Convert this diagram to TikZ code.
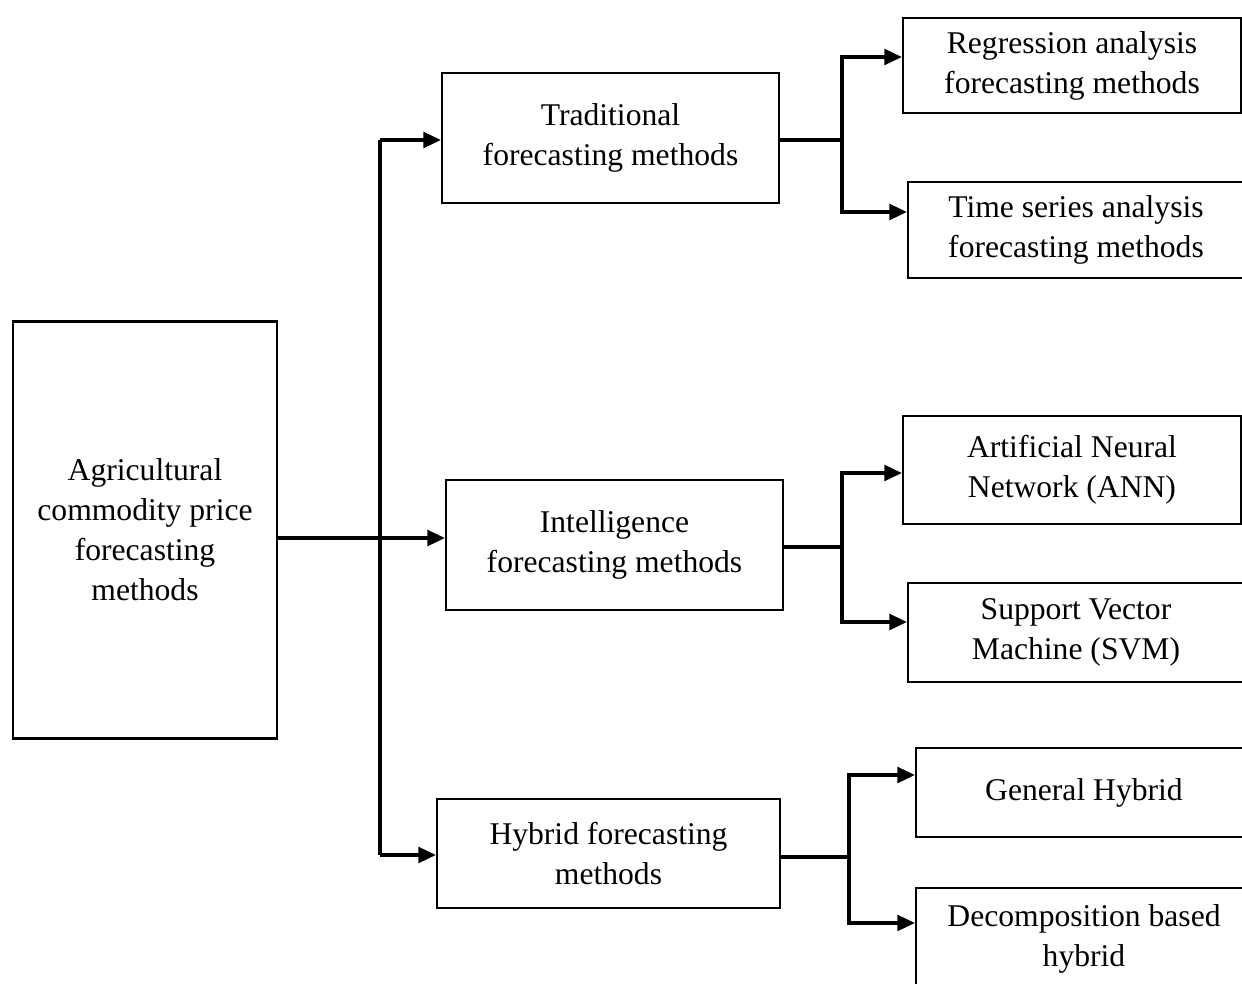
\documentclass[tikz,border=0pt]{standalone}
\usepackage{fontspec}
\setmainfont{Liberation Serif}
\usetikzlibrary{positioning}
\usetikzlibrary{arrows.meta}

\tikzset{
	box/.style={draw, line width=1.3pt, align=center, inner sep=0pt, font=\fontsize{18}{22.8}\selectfont},
	link/.style={line width=1.8pt},
	arr/.style={line width=1.8pt, -{Triangle[length=10pt,width=9pt]}},
}

\begin{document}
\begin{tikzpicture}[x=0.02cm, y=-0.02cm]
		\clip (0,0) rectangle (1242,984);
		%\draw[thin, gray!25] (0,0) grid[step=50] (1242,984);
		% first level
		\node[box, minimum width=5.28cm, minimum height=8.34cm] (main) at (145,530) {Agricultural\\commodity price\\forecasting\\methods};
		% second level
		\node[box, minimum width=6.74cm, minimum height=2.6cm] (trad) at (610.5,138) {Traditional\\forecasting methods};
		\node[box, minimum width=6.74cm, minimum height=2.6cm] (intel) at (614.5,545) {Intelligence\\forecasting methods};
		\node[box, minimum width=6.86cm, minimum height=2.18cm] (hyb) at (608.5,853.5) {Hybrid forecasting\\methods};
		% third level
		\node[box, minimum width=6.76cm, minimum height=1.9cm] (regr) at (1072,65.5) {Regression analysis\\forecasting methods};
		\node[box, minimum width=6.72cm, minimum height=1.92cm] (tser) at (1076,230) {Time series analysis\\forecasting methods};
		\node[box, minimum width=6.76cm, minimum height=2.16cm] (ann) at (1072,470) {Artificial Neural\\Network (ANN)};
		\node[box, minimum width=6.72cm, minimum height=1.98cm] (svm) at (1076,632.5) {Support Vector\\Machine (SVM)};
		\node[box, minimum width=6.72cm, minimum height=1.78cm] (gen) at (1084,792.5) {General Hybrid};
		\node[box, minimum width=6.72cm, minimum height=2.04cm] (dec) at (1084,939) {Decomposition based\\hybrid};
		% trunk from main box
		\coordinate (jn) at (380,538);
		\coordinate (ttop) at (380,140);
		\coordinate (tbot) at (380,855);
		\draw[link] (main.east |- jn) -- (jn);
		\draw[link] (ttop) -- (tbot);
		\draw[arr] (jn) -- (jn -| intel.west);
		\draw[arr] (ttop) -- (ttop -| trad.west);
		\draw[arr] (tbot) -- (tbot -| hyb.west);
		% branches
		\coordinate (b1) at (842,140);
		\coordinate (b1t) at (842,57);
		\coordinate (b1b) at (842,212);
		\draw[link] (trad.east |- b1) -- (b1);
		\draw[arr] (b1) |- (b1t -| regr.west);
		\draw[arr] (b1) |- (b1b -| tser.west);
		\coordinate (b2) at (842,547);
		\coordinate (b2t) at (842,473);
		\coordinate (b2b) at (842,622);
		\draw[link] (intel.east |- b2) -- (b2);
		\draw[arr] (b2) |- (b2t -| ann.west);
		\draw[arr] (b2) |- (b2b -| svm.west);
		\coordinate (b3) at (849,857);
		\coordinate (b3t) at (849,775);
		\coordinate (b3b) at (849,923);
		\draw[link] (hyb.east |- b3) -- (b3);
		\draw[arr] (b3) |- (b3t -| gen.west);
		\draw[arr] (b3) |- (b3b -| dec.west);
\end{tikzpicture}
\end{document}
